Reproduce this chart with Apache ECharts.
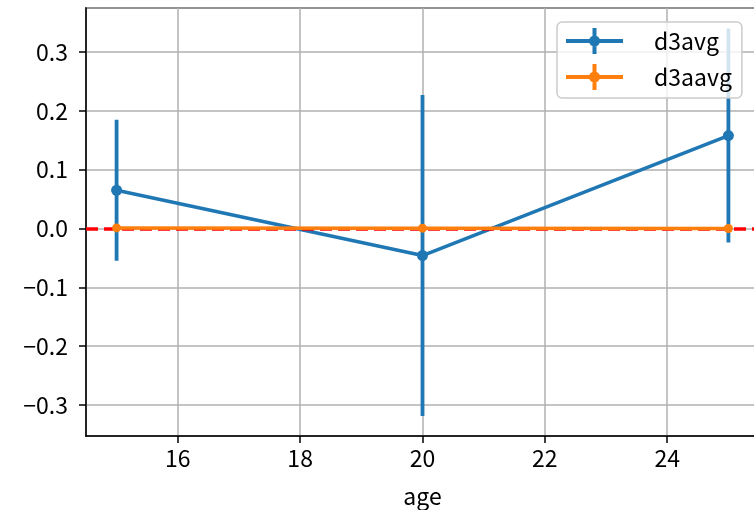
<!DOCTYPE html>
<html>
<head>
<meta charset="utf-8">
<script src="https://cdn.jsdelivr.net/npm/echarts@6/dist/echarts.min.js"></script>
<style>html,body{margin:0;padding:0;background:#fff}#c{width:754px;height:510px}</style>
</head>
<body>
<div id="c"></div>
<script>
const ages = [15, 20, 25];
const d3avg = [0.065, -0.046, 0.158];
const d3avgErr = [0.12, 0.273, 0.182];
const d3aavg = [0.001, 0.0005, 0.0];
const d3aavgErr = [0.004, 0.004, 0.004];
const seriesNames = ['d3avg', 'd3aavg'];
const xName = 'age';

const BLUE = '#1f77b4', ORANGE = '#ff7f0e';
const FONT = '"Noto Sans CJK JP", "DejaVu Sans", sans-serif';
const FS = 23;
const ICON = 'path://M0,11h57v4h-57z M26.5,0h4v26h-4z M34,13a5.5,5.5 0 1,1 -11,0a5.5,5.5 0 1,1 11,0z';

function errData(ys, errs) {
  return ages.map((x, i) => [x, ys[i] - errs[i], ys[i] + errs[i]]);
}
function errSeries(name, ys, errs, color, z) {
  return {
    type: 'custom', name: name, z: z, silent: true,
    data: errData(ys, errs),
    renderItem: function (params, api) {
      const p1 = api.coord([api.value(0), api.value(1)]);
      const p2 = api.coord([api.value(0), api.value(2)]);
      return {type: 'line', shape: {x1: p1[0], y1: p1[1], x2: p2[0], y2: p2[1]},
              style: {stroke: color, lineWidth: 3.8}};
    }
  };
}
function fmt(v) {
  return (v < 0 ? '\u2212' : '') + Math.abs(v).toFixed(1);
}

const chart = echarts.init(document.getElementById('c'), null, {renderer: 'canvas'});
chart.setOption({
  animation: false,
  backgroundColor: '#fff',
  grid: {left: 86, top: 8, right: -5, bottom: 74, outerBoundsMode: 'none', containLabel: false,
    show: true, borderColor: '#000', borderWidth: 1.5, backgroundColor: 'transparent'},
  legend: {
    data: seriesNames.map((n, i) => ({name: n, icon: ICON, itemStyle: {color: i ? ORANGE : BLUE}})),
    orient: 'vertical', left: 557, top: 22,
    padding: [6, 10, 8, 9], itemGap: 10, itemWidth: 57, itemHeight: 26,
    backgroundColor: 'rgba(255,255,255,0.8)', borderColor: '#cccccc', borderWidth: 1.5, borderRadius: 5,
    textStyle: {fontFamily: FONT, fontSize: FS, color: '#000', padding: [0, 0, 0, 26]},
    z: 10
  },
  xAxis: {
    type: 'value', min: 14.5, max: 25.5, splitNumber: 5,
    name: xName, nameLocation: 'middle', nameGap: 49,
    nameTextStyle: {fontFamily: FONT, fontSize: FS, color: '#000'},
    axisLine: {show: true, onZero: false, lineStyle: {color: '#000', width: 1.5}},
    axisTick: {show: true, length: 7, lineStyle: {color: '#000', width: 1.5}},
    axisLabel: {fontFamily: FONT, fontSize: FS, color: '#000', margin: 11, showMinLabel: false, showMaxLabel: false,
      formatter: v => String(v)},
    splitLine: {show: true, lineStyle: {color: '#b0b0b0', width: 1.5}}
  },
  yAxis: {
    type: 'value', min: -0.353, max: 0.375, splitNumber: 7,
    axisLine: {show: true, onZero: false, lineStyle: {color: '#000', width: 1.5}},
    axisTick: {show: true, length: 7, lineStyle: {color: '#000', width: 1.5}},
    axisLabel: {fontFamily: FONT, fontSize: FS, color: '#000', margin: 18, showMinLabel: false, showMaxLabel: false,
      formatter: fmt},
    splitLine: {show: true, lineStyle: {color: '#b0b0b0', width: 1.5}}
  },
  series: [
    errSeries('d3avg', d3avg, d3avgErr, BLUE, 3),
    {
      type: 'line', name: 'd3avg', z: 4,
      data: ages.map((x, i) => [x, d3avg[i]]),
      symbol: 'circle', symbolSize: 11, showSymbol: true,
      lineStyle: {color: BLUE, width: 3.5}, itemStyle: {color: BLUE}
    },
    {
      type: 'line', name: '_zero', z: 5, data: [], silent: true,
      markLine: {silent: true, symbol: 'none', label: {show: false},
        lineStyle: {color: '#ff0000', width: 3.5, type: [12, 6]},
        data: [{yAxis: 0}]}
    },
    errSeries('d3aavg', d3aavg, d3aavgErr, ORANGE, 6),
    {
      type: 'line', name: 'd3aavg', z: 7,
      data: ages.map((x, i) => [x, d3aavg[i]]),
      symbol: 'circle', symbolSize: 9, showSymbol: true,
      lineStyle: {color: ORANGE, width: 3.5}, itemStyle: {color: ORANGE}
    }
  ]
});
</script>
</body>
</html>
